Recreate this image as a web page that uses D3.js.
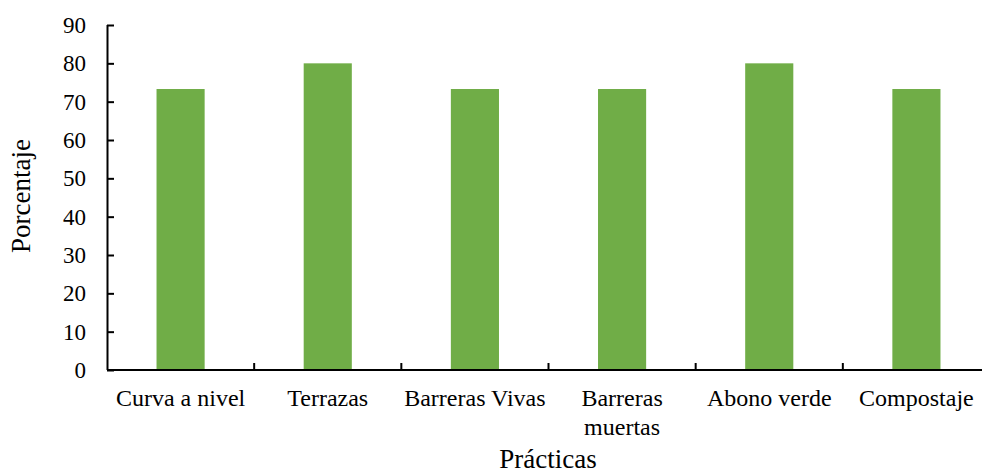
<!DOCTYPE html>
<html>
<head>
<meta charset="utf-8">
<script src="https://cdn.jsdelivr.net/npm/d3@7"></script>
<style>
  html, body { margin: 0; padding: 0; background: #fff; }
  svg { display: block; }
</style>
</head>
<body>
<svg id="chart" width="982" height="474"></svg>
<script>
const categories = ["Curva a nivel", "Terrazas", "Barreras Vivas", "Barreras muertas", "Abono verde", "Compostaje"];
const categoryLines = [["Curva a nivel"], ["Terrazas"], ["Barreras Vivas"], ["Barreras", "muertas"], ["Abono verde"], ["Compostaje"]];
const values = [73.3, 80, 73.3, 73.3, 80, 73.3];
const yTicks = [0, 10, 20, 30, 40, 50, 60, 70, 80, 90];
const yTitle = "Porcentaje";
const xTitle = "Prácticas";

(function () {
const FONT = "'Liberation Serif', 'Times New Roman', 'DejaVu Serif', serif";
const svg = d3.select("#chart").attr("font-family", FONT);
const mLeft = 107, mRight = 990, mTop = 25, mBottom = 370;

const x = d3.scaleBand().domain(categories).range([mLeft, mRight]).paddingInner(0).paddingOuter(0);
const y = d3.scaleLinear().domain([0, 90]).range([mBottom, mTop]);
const barFrac = 0.327;
const bw = x.bandwidth() * barFrac;

// bars
svg.append("g").selectAll("rect").data(categories).join("rect")
  .attr("x", (d) => x(d) + (x.bandwidth() - bw) / 2)
  .attr("y", (d, i) => y(values[i]))
  .attr("width", bw)
  .attr("height", (d, i) => y(0) - y(values[i]))
  .attr("fill", "#70AD47");

// y axis
const yAxis = d3.axisRight(y).tickValues(yTicks).tickSize(7).tickFormat("");
const gy = svg.append("g").attr("transform", `translate(${mLeft},0)`).call(yAxis);
gy.select(".domain").attr("stroke", "#000").attr("stroke-width", 2).attr("d", `M0.5,${mTop}V${mBottom}`);
gy.selectAll(".tick line").attr("stroke", "#000").attr("stroke-width", 2);

svg.append("g").selectAll("text").data(yTicks).join("text")
  .attr("x", 86)
  .attr("y", (d) => y(d))
  .attr("dy", "0.35em")
  .attr("text-anchor", "end")
  .attr("font-family", FONT)
  .attr("font-size", 23)
  .attr("fill", "#000")
  .text((d) => d);

// x axis
svg.append("line").attr("x1", mLeft).attr("x2", mRight).attr("y1", mBottom).attr("y2", mBottom)
  .attr("stroke", "#000").attr("stroke-width", 2);
svg.append("g").selectAll("line").data(categories.slice(1)).join("line")
  .attr("x1", (d) => x(d)).attr("x2", (d) => x(d))
  .attr("y1", mBottom).attr("y2", mBottom - 7)
  .attr("stroke", "#000").attr("stroke-width", 2);

const lbl = svg.append("g").selectAll("text").data(categories).join("text")
  .attr("x", (d) => x(d) + x.bandwidth() / 2)
  .attr("y", 406)
  .attr("text-anchor", "middle")
  .attr("font-family", FONT)
  .attr("font-size", 24)
  .attr("fill", "#000");
lbl.each(function (d, i) {
  const t = d3.select(this);
  categoryLines[i].forEach((line, j) => {
    t.append("tspan").attr("x", x(d) + x.bandwidth() / 2).attr("dy", j === 0 ? 0 : 29).text(line);
  });
});

// titles
svg.append("text")
  .attr("transform", `translate(30,196) rotate(-90)`)
  .attr("text-anchor", "middle")
  .attr("font-family", FONT)
  .attr("font-size", 27)
  .attr("fill", "#000")
  .text(yTitle);

svg.append("text")
  .attr("x", 548).attr("y", 468)
  .attr("text-anchor", "middle")
  .attr("font-family", FONT)
  .attr("font-size", 27)
  .attr("fill", "#000")
  .text(xTitle);
})();
</script>
</body>
</html>
